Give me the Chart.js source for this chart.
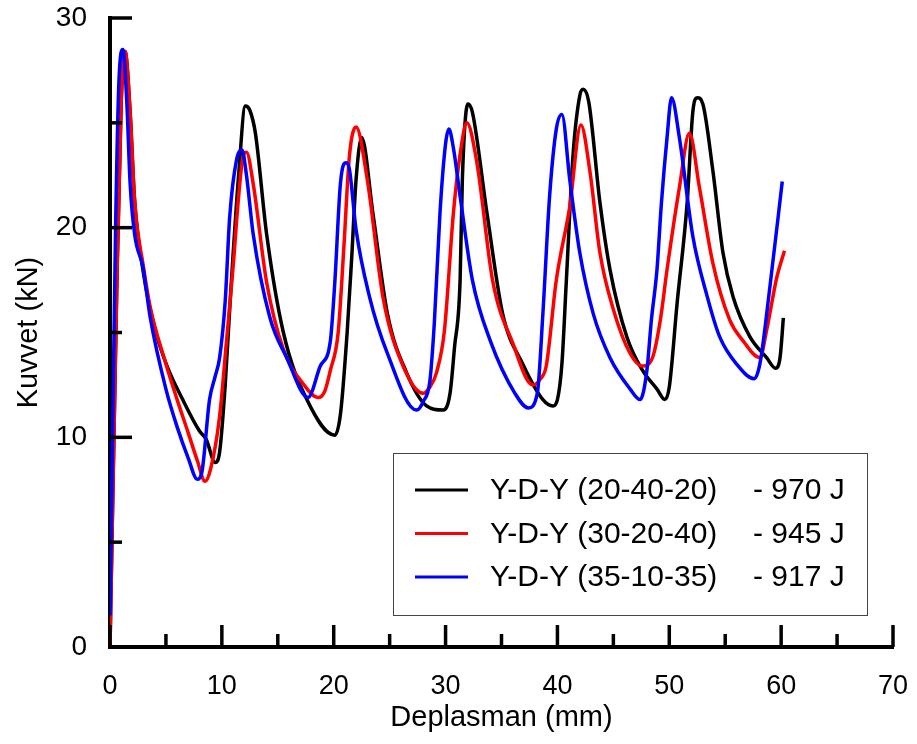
<!DOCTYPE html>
<html>
<head>
<meta charset="utf-8">
<script src="https://cdn.jsdelivr.net/npm/chart.js@4.4.1/dist/chart.umd.min.js"></script>
<style>
  html, body { margin: 0; padding: 0; background: #fff; }
  canvas { display: block; }
</style>
</head>
<body>
<canvas id="chart" width="917" height="744"></canvas>
<script>
// Y-D-Y (20-40-20) - black
const blackX = [0, 0.6, 1.0, 1.35, 1.8, 2.2, 3.0, 4.0, 5.1, 6.5, 8.0, 8.6, 9.4, 9.8, 10.3, 10.8, 11.5, 12.1, 12.5, 13.0, 14.0, 15.5, 17.6, 20.1, 20.6, 21.2, 21.6, 22.0, 22.5, 23.5, 24.8, 26.5, 28.3, 29.8, 30.4, 30.8, 31.3, 31.5, 32.0, 32.4, 33.7, 35.1, 36.9, 38.7, 39.6, 40.0, 40.4, 40.8, 41.4, 42.0, 42.3, 42.8, 43.8, 44.7, 46.2, 47.6, 48.9, 49.6, 50.0, 50.7, 51.6, 52.1, 52.5, 53.0, 53.9, 54.8, 55.7, 57.2, 58.7, 59.5, 59.9, 60.2];
const blackY = [0, 17, 26, 28.4, 25.5, 21.3, 17.8, 15.2, 13.4, 11.8, 10.3, 9.9, 8.8, 9.3, 12.5, 17, 22.5, 25.8, 25.6, 24.5, 19.7, 15.0, 11.8, 10.1, 11.1, 15.0, 18.5, 22.3, 24.3, 20.7, 15.9, 13.1, 11.5, 11.3, 12.1, 14.3, 17.5, 22.3, 25.9, 25.5, 20.7, 15.9, 13.5, 11.8, 11.5, 11.8, 13.5, 17.5, 23.5, 26.3, 26.6, 26.0, 21.2, 18.0, 14.8, 13.2, 12.3, 11.8, 12.4, 16.4, 21.2, 25.5, 26.2, 25.9, 22.7, 18.8, 16.7, 14.8, 13.8, 13.3, 13.8, 15.7];

// Y-D-Y (30-20-40) - red
const redX = [0, 0.6, 1.0, 1.35, 1.8, 2.2, 3.0, 3.6, 5.0, 6.0, 7.0, 7.8, 8.5, 9.0, 9.8, 10.4, 11.0, 11.5, 11.9, 12.2, 12.8, 14.0, 15.5, 17.2, 18.6, 19.2, 19.7, 20.4, 20.9, 21.4, 22.0, 23.0, 24.4, 26.2, 28.0, 28.6, 29.2, 29.9, 30.7, 31.3, 31.9, 32.8, 34.2, 36.0, 37.8, 38.5, 39.0, 39.9, 41.1, 42.1, 42.9, 43.8, 45.0, 46.5, 47.6, 48.5, 49.2, 49.8, 50.9, 51.8, 52.7, 53.9, 55.4, 56.6, 58.1, 58.7, 59.6, 60.3];
const redY = [0, 17, 26, 28.4, 25.5, 21.3, 18.1, 16.2, 13.5, 11.8, 10.2, 8.9, 7.9, 8.5, 11.0, 14.5, 18.1, 21.5, 23.4, 23.6, 22.1, 17.4, 14.2, 12.6, 11.9, 12.2, 13.2, 15.0, 19.0, 23.4, 24.8, 22.3, 16.7, 13.4, 12.1, 12.4, 13.1, 15.1, 20.7, 23.5, 25.0, 23.1, 17.5, 14.5, 12.5, 12.8, 13.4, 17.5, 21.0, 24.9, 22.7, 18.8, 16.1, 14.0, 13.4, 13.8, 15.6, 18.0, 21.9, 24.5, 21.9, 18.3, 15.6, 14.6, 13.8, 15.1, 17.6, 18.9];

// Y-D-Y (35-10-35) - blue
const blueX = [0, 0.5, 0.8, 1.15, 1.5, 1.8, 2.2, 2.95, 3.6, 5.0, 6.0, 7.0, 7.8, 8.2, 8.9, 9.4, 9.8, 10.3, 10.7, 11.3, 11.8, 12.2, 12.8, 14.3, 15.8, 17.7, 18.8, 19.7, 20.1, 20.6, 21.1, 21.4, 22.0, 23.2, 24.8, 27.4, 28.0, 28.6, 29.0, 29.5, 30.0, 30.3, 30.7, 31.3, 32.4, 34.0, 36.2, 37.4, 38.2, 38.7, 39.3, 39.9, 40.4, 41.1, 42.0, 43.2, 44.7, 46.5, 47.4, 48.0, 48.4, 48.9, 49.3, 49.8, 50.2, 50.9, 52.1, 53.4, 54.5, 56.0, 57.6, 58.1, 59.0, 60.1];
const blueY = [1.5, 20, 27, 28.5, 26, 22.1, 19.7, 18.1, 15.7, 12.3, 10.5, 9.0, 8.0, 8.3, 11.8, 12.9, 13.8, 16.5, 20.5, 23.2, 23.7, 22.5, 19.7, 15.7, 13.8, 11.9, 13.4, 14.6, 17.4, 22.1, 23.1, 22.8, 19.9, 16.7, 14.0, 11.3, 11.7, 12.7, 15.5, 20.7, 24.0, 24.7, 23.8, 21.5, 17.5, 14.6, 12.1, 11.4, 12.1, 15.9, 21.5, 24.7, 25.4, 22.3, 18.8, 15.9, 13.8, 12.3, 11.8, 13.2, 15.6, 18.0, 21.2, 24.3, 26.2, 24.3, 19.6, 16.7, 14.8, 13.5, 12.8, 13.5, 17.2, 22.2];

const seriesNames = ["Y-D-Y (20-40-20)", "Y-D-Y (30-20-40)", "Y-D-Y (35-10-35)"];
const seriesEnergy = ["- 970 J", "- 945 J", "- 917 J"];
const seriesColors = ["#000000", "#ff0000", "#0000ff"];

const xTicks = [0, 10, 20, 30, 40, 50, 60, 70];
const yTicks = [0, 10, 20, 30];

const FONT = "'Liberation Sans', Arial, sans-serif";

function toPoints(xs, ys) {
  return xs.map((x, i) => ({ x: x, y: ys[i] }));
}

// inward tick marks, major every 10 and minor every 5
const innerTicks = {
  id: "innerTicks",
  afterDatasetsDraw(chart) {
    const ctx = chart.ctx;
    const area = chart.chartArea;
    const xs = chart.scales.x;
    const ys = chart.scales.y;
    ctx.save();
    ctx.strokeStyle = "#000";
    ctx.lineWidth = 3.5;
    xs.ticks.forEach((t) => {
      const px = xs.getPixelForValue(t.value);
      const len = xTicks.includes(t.value) ? 22 : 13;
      ctx.beginPath();
      ctx.moveTo(px, area.bottom);
      ctx.lineTo(px, area.bottom - len);
      ctx.stroke();
    });
    ys.ticks.forEach((t) => {
      const py = ys.getPixelForValue(t.value);
      const len = yTicks.includes(t.value) ? 22 : 12;
      ctx.beginPath();
      ctx.moveTo(area.left, py);
      ctx.lineTo(area.left + len, py);
      ctx.stroke();
    });
    ctx.restore();
  },
};

// boxed legend inside the plot, lower right
const boxLegend = {
  id: "boxLegend",
  afterDraw(chart) {
    const ctx = chart.ctx;
    const area = chart.chartArea;
    const left = area.left + 283;
    const top = area.top + 435;
    const w = 474;
    const h = 162;
    ctx.save();
    ctx.fillStyle = "#fff";
    ctx.fillRect(left, top, w, h);
    ctx.strokeStyle = "#444";
    ctx.lineWidth = 1;
    ctx.strokeRect(left + 0.5, top + 0.5, w, h);
    ctx.font = "30px " + FONT;
    ctx.textBaseline = "middle";
    chart.data.datasets.forEach((ds, i) => {
      const y = top + 37 + i * 43.5;
      ctx.strokeStyle = ds.borderColor;
      ctx.lineWidth = 3;
      ctx.beginPath();
      ctx.moveTo(left + 22, y);
      ctx.lineTo(left + 75, y);
      ctx.stroke();
      ctx.fillStyle = "#000";
      ctx.fillText(seriesNames[i], left + 97, y + 1);
      ctx.fillText(seriesEnergy[i], left + 360, y + 1);
    });
    ctx.restore();
  },
};

new Chart(document.getElementById("chart"), {
  type: "scatter",
  data: {
    datasets: seriesNames.map((name, i) => ({
      label: name + "   " + seriesEnergy[i],
      data: toPoints([blackX, redX, blueX][i], [blackY, redY, blueY][i]),
      showLine: true,
      order: 3 - i, // black underneath, blue on top
      borderColor: seriesColors[i],
      backgroundColor: seriesColors[i],
      borderWidth: 3.5,
      pointRadius: 0,
      cubicInterpolationMode: "monotone",
    })),
  },
  options: {
    responsive: false,
    animation: false,
    layout: { padding: { top: 18, right: 24, left: 0, bottom: 0 } },
    plugins: {
      legend: { display: false },
      tooltip: { enabled: false },
    },
    scales: {
      x: {
        type: "linear",
        min: 0,
        max: 70,
        afterFit: (scale) => {
          scale.height = 97;
          scale.paddingLeft = 0;
          scale.paddingRight = 0;
        },
        ticks: {
          stepSize: 5,
          autoSkip: false,
          maxRotation: 0,
          padding: 15,
          color: "#000",
          font: { family: FONT, size: 27 },
          callback: (v) => (xTicks.includes(v) ? String(v) : ""),
        },
        grid: { display: false },
        border: { display: true, color: "#000", width: 4 },
        title: {
          display: true,
          text: "Deplasman (mm)",
          color: "#000",
          font: { family: FONT, size: 29 },
          padding: { top: 0, bottom: 9 },
        },
      },
      y: {
        min: 0,
        max: 30,
        afterFit: (scale) => {
          scale.width = 110;
          scale.paddingTop = 0;
          scale.paddingBottom = 0;
        },
        ticks: {
          stepSize: 5,
          autoSkip: false,
          padding: 15,
          color: "#000",
          font: { family: FONT, size: 28 },
          callback: (v) => (yTicks.includes(v) ? String(v) : ""),
        },
        grid: { display: false },
        border: { display: true, color: "#000", width: 4 },
        title: {
          display: true,
          text: "Kuvvet (kN)",
          color: "#000",
          font: { family: FONT, size: 29 },
          padding: { top: 12, bottom: 0 },
        },
      },
    },
  },
  plugins: [innerTicks, boxLegend],
});
</script>
</body>
</html>
